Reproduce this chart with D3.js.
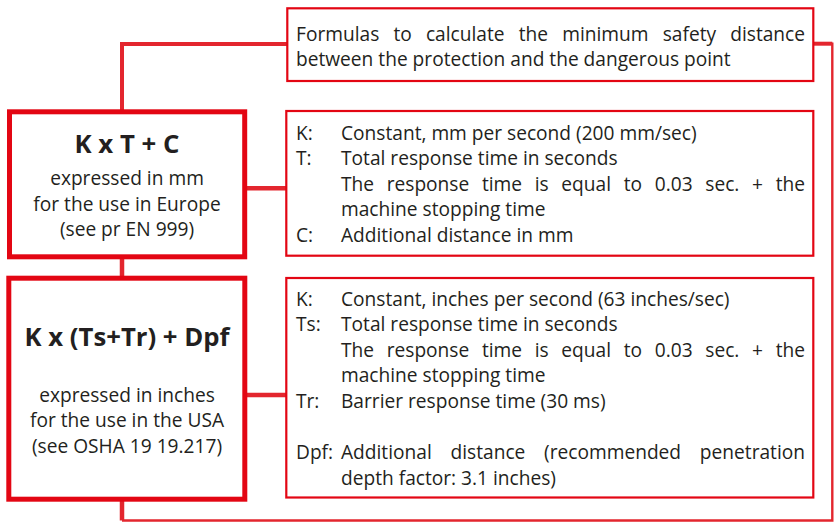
<!DOCTYPE html>
<html><head><meta charset="utf-8">
<script src="https://cdn.jsdelivr.net/npm/d3@7/dist/d3.min.js"></script>
<style>html,body{margin:0;padding:0;background:#fff;}svg{display:block;}</style>
</head><body>
<script>
// ---- content ----
const topNote = ["Formulas to calculate the minimum safety distance",
                 "between the protection and the dangerous point"];
const topNoteJustify = [true, false];
const formulas = ["K x T + C", "K x (Ts+Tr) + Dpf"];
const formulaNotes = [
  ["expressed in mm", "for the use in Europe", "(see pr EN 999)"],
  ["expressed in inches", "for the use in the USA", "(see OSHA 19 19.217)"]
];
const europeLabels = ["K:", "T:", "", "", "C:"];
const europeTexts = ["Constant, mm per second (200 mm/sec)",
                     "Total response time in seconds",
                     "The response time is equal to 0.03 sec. + the",
                     "machine stopping time",
                     "Additional distance in mm"];
const europeJustify = [false, false, true, false, false];
const usaLabels = ["K:", "Ts:", "", "", "Tr:", "", "Dpf:", ""];
const usaTexts = ["Constant, inches per second (63 inches/sec)",
                  "Total response time in seconds",
                  "The response time is equal to 0.03 sec. + the",
                  "machine stopping time",
                  "Barrier response time (30 ms)",
                  "",
                  "Additional distance (recommended penetration",
                  "depth factor: 3.1 inches)"];
const usaJustify = [false, false, true, false, false, false, true, false];

// ---- drawing ----
const W = 834, H = 522;
const RED = "#e30613", LINK = "#e3262e", INK = "#231f20";
const FONT = "'Open Sans', 'Noto Sans', sans-serif";
const svg = d3.select("body").append("svg").attr("width", W).attr("height", H);

// measure helper to fit body font size
const probe = svg.append("text").attr("font-family", FONT).attr("font-size", 18).text(topNote[1]);
const bodySize = 18 * 435 / probe.node().getComputedTextLength();
probe.attr("font-weight", "bold").attr("font-size", 26).text(formulas[0]);
const fA = 26 * 105 / probe.node().getComputedTextLength();
probe.text(formulas[1]);
const fB = 26 * 205 / probe.node().getComputedTextLength();
probe.remove();

// connectors
const line = d3.line();
const links = svg.append("g").attr("fill", "none").attr("stroke", LINK);
links.append("path").attr("d", line([[287, 44], [122, 44], [122, 110]])).attr("stroke-width", 4);
links.append("path").attr("d", line([[122, 258], [122, 278]])).attr("stroke-width", 4.5);
links.append("path").attr("d", line([[122, 499], [122, 520.5]])).attr("stroke-width", 4.5);
links.append("path").attr("d", line([[122, 520.5], [832.3, 520.5], [832.3, 43.7], [813, 43.7]])).attr("stroke-width", 2.4);
links.append("path").attr("d", line([[813, 43.7], [832.3, 43.7]])).attr("stroke-width", 4);
links.append("path").attr("d", line([[245, 188.2], [287, 188.2]])).attr("stroke-width", 4.5);
links.append("path").attr("d", line([[245, 395], [287, 395]])).attr("stroke-width", 4.5);

// boxes
const thinBoxes = [[287.3, 8.3, 526, 72.7], [286.3, 111, 527, 144.7], [286.3, 278, 527, 219.5]];
svg.append("g").selectAll("rect").data(thinBoxes).join("rect")
  .attr("x", d => d[0]).attr("y", d => d[1]).attr("width", d => d[2]).attr("height", d => d[3])
  .attr("fill", "#fff").attr("stroke", RED).attr("stroke-width", 2.2);
const bigBoxes = [[9.5, 111.8, 235.2, 145], [8.8, 278.2, 236, 221]];
svg.append("g").selectAll("rect").data(bigBoxes).join("rect")
  .attr("x", d => d[0]).attr("y", d => d[1]).attr("width", d => d[2]).attr("height", d => d[3])
  .attr("fill", "#fff").attr("stroke", RED).attr("stroke-width", 5);

// text writer with optional justification
function writeLine(g, str, x0, y, x1, justify) {
  if (!str) return;
  const t = g.append("text").attr("x", x0).attr("y", y)
    .attr("font-family", FONT).attr("font-size", bodySize).attr("fill", INK);
  if (!justify) { t.text(str); return; }
  const words = str.split(" ");
  const widths = words.map(w => { t.text(w); return t.node().getComputedTextLength(); });
  t.text(null);
  const total = d3.sum(widths);
  const gap = (x1 - x0 - total) / (words.length - 1);
  let x = x0;
  words.forEach((w, i) => {
    t.append("tspan").attr("x", x).text(w);
    x += widths[i] + gap;
  });
}

const txt = svg.append("g");
const LH = 25.6;
topNote.forEach((s, i) => writeLine(txt, s, 296, 40.5 + i * LH, 805, topNoteJustify[i]));
europeTexts.forEach((s, i) => {
  writeLine(txt, europeLabels[i], 296, 139.5 + i * LH, 0, false);
  writeLine(txt, s, 341, 139.5 + i * LH, 805, europeJustify[i]);
});
usaTexts.forEach((s, i) => {
  writeLine(txt, usaLabels[i], 296, 305.5 + i * LH, 0, false);
  writeLine(txt, s, 341, 305.5 + i * LH, 805, usaJustify[i]);
});

// formula boxes
const formulaY = [153, 346];
const formulaSize = [fA, fB];
const noteY = [185, 401.5];
formulas.forEach((f, i) => {
  txt.append("text").attr("x", 127).attr("y", formulaY[i]).attr("text-anchor", "middle")
    .attr("font-family", FONT).attr("font-weight", "bold").attr("font-size", formulaSize[i])
    .attr("fill", INK).text(f);
  formulaNotes[i].forEach((s, j) => {
    txt.append("text").attr("x", 127).attr("y", noteY[i] + j * 25.6).attr("text-anchor", "middle")
      .attr("font-family", FONT).attr("font-size", bodySize).attr("fill", INK).text(s);
  });
});
</script>
</body></html>
